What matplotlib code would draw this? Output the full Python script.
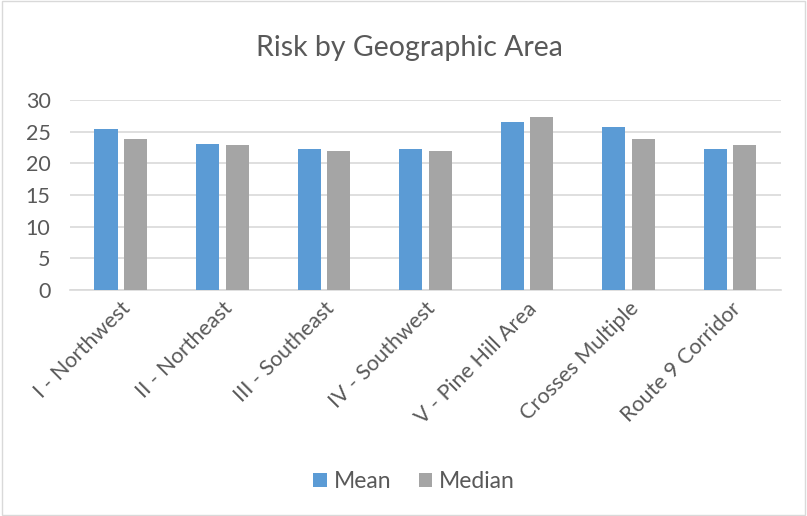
import numpy as np
import matplotlib
matplotlib.use("Agg")
import matplotlib.pyplot as plt
from matplotlib.patches import Rectangle

plt.rcParams['font.family'] = ['Lato', 'DejaVu Sans']

# Risk scores per geographic area
areas = ["I - Northwest", "II - Northeast", "III - Southeast", "IV - Southwest",
         "V - Pine Hill Area", "Crosses Multiple", "Route 9 Corridor"]
mean_risk = [25.5, 23.1, 22.2, 22.2, 26.5, 25.7, 22.2]
median_risk = [23.9, 22.9, 21.9, 21.9, 27.4, 23.9, 22.9]
y_ticks = [0, 5, 10, 15, 20, 25, 30]

BLUE = '#5B9BD5'
GRAY = '#A5A5A5'
TEXT = '#595959'

fig = plt.figure(figsize=(8.07, 5.16), dpi=100)
ax = fig.add_axes([0.0867, 0.438, 0.881, 0.368])

x = np.arange(len(areas))
bar_width = 0.227
offset = 0.145
ax.bar(x - offset, mean_risk, bar_width, color=BLUE, label='Mean', zorder=3)
ax.bar(x + offset, median_risk, bar_width, color=GRAY, label='Median', zorder=3)

ax.set_xlim(-0.5, len(areas) - 0.5)
ax.set_ylim(0, 30)
ax.set_yticks(y_ticks)
ax.yaxis.grid(True, color='#D9D9D9', linewidth=1.2, zorder=0)
ax.tick_params(axis='y', length=0, labelsize=15.5, labelcolor=TEXT, pad=14)
ax.tick_params(axis='x', length=0, labelsize=15.5, labelcolor=TEXT, pad=6)
ax.set_xticks(x)
ax.set_xticklabels(areas, rotation=45, ha='right', rotation_mode='anchor')
for side in ['top', 'right', 'left']:
    ax.spines[side].set_visible(False)
ax.spines['bottom'].set_color('#D9D9D9')
ax.spines['bottom'].set_linewidth(1.2)

fig.text(0.507, 0.907, 'Risk by Geographic Area', ha='center', va='center',
         fontsize=20.5, color=TEXT)

fig.legend(loc='center', bbox_to_anchor=(0.513, 0.067), ncol=2, frameon=False,
           fontsize=16.5, labelcolor=TEXT, handlelength=0.6, handleheight=0.6,
           handletextpad=0.3, columnspacing=1.2)

# thin chart frame
fig.patches.append(Rectangle((0.002, 0.002), 0.996, 0.996, transform=fig.transFigure,
                             fill=False, edgecolor='#D9D9D9', linewidth=1))

fig.savefig('out.png', dpi=100)
